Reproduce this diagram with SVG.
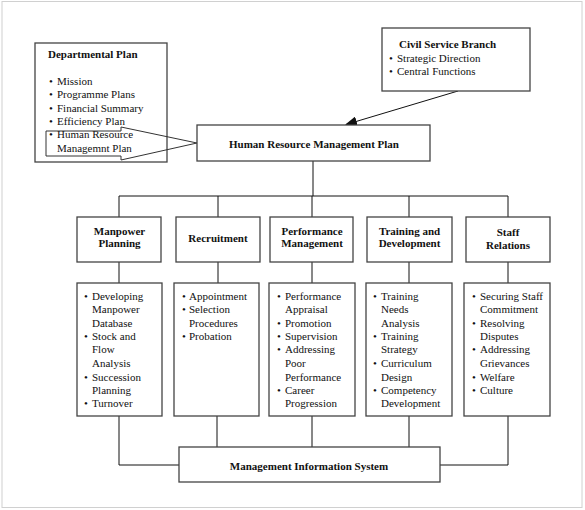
<svg xmlns="http://www.w3.org/2000/svg" width="585" height="510" viewBox="0 0 585 510">
<defs>
<style>
.box{fill:#fff;stroke:#444;stroke-width:1.3}
.ln{fill:none;stroke:#111;stroke-width:1}
.t{font-family:"Liberation Serif","Times New Roman",serif;font-size:11px;fill:#111}
.b{font-weight:bold}
.c{text-anchor:middle}
</style>
<marker id="ah" markerWidth="12" markerHeight="10" refX="11" refY="5" orient="auto" markerUnits="userSpaceOnUse">
<path d="M0,0 L12,5 L0,10 Z" fill="#111"/>
</marker>
</defs>
<rect x="0" y="0" width="585" height="510" fill="#fff"/>
<rect x="2" y="1.5" width="580" height="506" fill="none" stroke="#d0d0d0" stroke-width="1"/>

<g id="connectors">
<line class="ln" x1="458" y1="91" x2="346" y2="124.5" marker-end="url(#ah)"/>
<line class="ln" x1="313" y1="161" x2="313" y2="196"/>
<line class="ln" x1="119" y1="196" x2="508" y2="196"/>
<line class="ln" x1="119" y1="196" x2="119" y2="217"/>
<line class="ln" x1="218" y1="196" x2="218" y2="217"/>
<line class="ln" x1="312" y1="196" x2="312" y2="217"/>
<line class="ln" x1="409" y1="196" x2="409" y2="217"/>
<line class="ln" x1="508" y1="196" x2="508" y2="217"/>
<line class="ln" x1="119" y1="262" x2="119" y2="283"/>
<line class="ln" x1="218" y1="262" x2="218" y2="283"/>
<line class="ln" x1="312" y1="262" x2="312" y2="283"/>
<line class="ln" x1="409" y1="262" x2="409" y2="283"/>
<line class="ln" x1="508" y1="262" x2="508" y2="283"/>
<polyline class="ln" points="119,416 119,465 179,465"/>
<line class="ln" x1="217" y1="416" x2="217" y2="447"/>
<line class="ln" x1="312" y1="416" x2="312" y2="447"/>
<line class="ln" x1="409" y1="416" x2="409" y2="447"/>
<polyline class="ln" points="508,416 508,465 440,465"/>
</g>

<g id="departmental-plan">
<rect class="box" x="35" y="43" width="132" height="119"/>
<text class="t b" x="48" y="58">Departmental Plan</text>
<text class="t" x="49" y="85">•</text><text class="t" x="57" y="85">Mission</text>
<text class="t" x="49" y="98.3">•</text><text class="t" x="57" y="98.3">Programme Plans</text>
<text class="t" x="49" y="111.6">•</text><text class="t" x="57" y="111.6">Financial Summary</text>
<text class="t" x="49" y="124.9">•</text><text class="t" x="57" y="124.9">Efficiency Plan</text>
<text class="t" x="49" y="138.2">•</text><text class="t" x="57" y="138.2">Human Resource</text>
<text class="t" x="57" y="151.5">Managemnt Plan</text>
<polygon points="46,131 121,131 121,127 197,143 121,160 121,156 46,156" fill="none" stroke="#333" stroke-width="1"/>
</g>

<g id="civil-service-branch">
<rect class="box" x="382" y="28" width="148" height="63"/>
<text class="t b" x="399" y="48">Civil Service Branch</text>
<text class="t" x="389" y="62">•</text><text class="t" x="397" y="62">Strategic Direction</text>
<text class="t" x="389" y="75">•</text><text class="t" x="397" y="75">Central Functions</text>
</g>

<g id="hrm-plan">
<rect class="box" x="197" y="125" width="233" height="36"/>
<text class="t b c" x="314" y="148">Human Resource Management Plan</text>
</g>

<g id="manpower-planning">
<rect class="box" x="77" y="217" width="84" height="45"/>
<text class="t b c" x="119.5" y="235">Manpower</text>
<text class="t b c" x="119.5" y="247">Planning</text>
</g>
<g id="recruitment">
<rect class="box" x="176" y="217" width="84" height="45"/>
<text class="t b c" x="218" y="242">Recruitment</text>
</g>
<g id="performance-management">
<rect class="box" x="270" y="217" width="83" height="45"/>
<text class="t b c" x="312" y="235">Performance</text>
<text class="t b c" x="312" y="247">Management</text>
</g>
<g id="training-development">
<rect class="box" x="367" y="217" width="85" height="45"/>
<text class="t b c" x="409.5" y="235">Training and</text>
<text class="t b c" x="409.5" y="247">Development</text>
</g>
<g id="staff-relations">
<rect class="box" x="466" y="217" width="84" height="45"/>
<text class="t b c" x="508" y="236">Staff</text>
<text class="t b c" x="508" y="249">Relations</text>
</g>

<g id="manpower-list">
<rect class="box" x="77" y="283" width="85" height="133"/>
<text class="t" x="84" y="300">•</text><text class="t" x="92" y="300">Developing</text>
<text class="t" x="92" y="313.3">Manpower</text>
<text class="t" x="92" y="326.6">Database</text>
<text class="t" x="84" y="339.9">•</text><text class="t" x="92" y="339.9">Stock and</text>
<text class="t" x="92" y="353.2">Flow</text>
<text class="t" x="92" y="366.5">Analysis</text>
<text class="t" x="84" y="380.5">•</text><text class="t" x="92" y="380.5">Succession</text>
<text class="t" x="92" y="393.8">Planning</text>
<text class="t" x="84" y="407.1">•</text><text class="t" x="92" y="407.1">Turnover</text>
</g>
<g id="recruitment-list">
<rect class="box" x="174" y="283" width="85" height="133"/>
<text class="t" x="182" y="300">•</text><text class="t" x="189" y="300">Appointment</text>
<text class="t" x="182" y="313.3">•</text><text class="t" x="189" y="313.3">Selection</text>
<text class="t" x="189" y="326.6">Procedures</text>
<text class="t" x="182" y="339.9">•</text><text class="t" x="189" y="339.9">Probation</text>
</g>
<g id="performance-list">
<rect class="box" x="269" y="283" width="86" height="133"/>
<text class="t" x="277" y="300">•</text><text class="t" x="285" y="300">Performance</text>
<text class="t" x="285" y="313.3">Appraisal</text>
<text class="t" x="277" y="326.6">•</text><text class="t" x="285" y="326.6">Promotion</text>
<text class="t" x="277" y="339.9">•</text><text class="t" x="285" y="339.9">Supervision</text>
<text class="t" x="277" y="353.2">•</text><text class="t" x="285" y="353.2">Addressing</text>
<text class="t" x="285" y="366.5">Poor</text>
<text class="t" x="285" y="380.5">Performance</text>
<text class="t" x="277" y="393.8">•</text><text class="t" x="285" y="393.8">Career</text>
<text class="t" x="285" y="407.1">Progression</text>
</g>
<g id="training-list">
<rect class="box" x="366" y="283" width="86" height="133"/>
<text class="t" x="373" y="300">•</text><text class="t" x="381" y="300">Training</text>
<text class="t" x="381" y="313.3">Needs</text>
<text class="t" x="381" y="326.6">Analysis</text>
<text class="t" x="373" y="339.9">•</text><text class="t" x="381" y="339.9">Training</text>
<text class="t" x="381" y="353.2">Strategy</text>
<text class="t" x="373" y="366.5">•</text><text class="t" x="381" y="366.5">Curriculum</text>
<text class="t" x="381" y="380.5">Design</text>
<text class="t" x="373" y="393.8">•</text><text class="t" x="381" y="393.8">Competency</text>
<text class="t" x="381" y="407.1">Development</text>
</g>
<g id="staff-list">
<rect class="box" x="464" y="283" width="86" height="133"/>
<text class="t" x="472" y="300">•</text><text class="t" x="480" y="300">Securing Staff</text>
<text class="t" x="480" y="313.3">Commitment</text>
<text class="t" x="472" y="326.6">•</text><text class="t" x="480" y="326.6">Resolving</text>
<text class="t" x="480" y="339.9">Disputes</text>
<text class="t" x="472" y="353.2">•</text><text class="t" x="480" y="353.2">Addressing</text>
<text class="t" x="480" y="366.5">Grievances</text>
<text class="t" x="472" y="380.5">•</text><text class="t" x="480" y="380.5">Welfare</text>
<text class="t" x="472" y="393.8">•</text><text class="t" x="480" y="393.8">Culture</text>
</g>

<g id="mis">
<rect class="box" x="179" y="447" width="261" height="35"/>
<text class="t b c" x="309" y="470">Management Information System</text>
</g>
</svg>
